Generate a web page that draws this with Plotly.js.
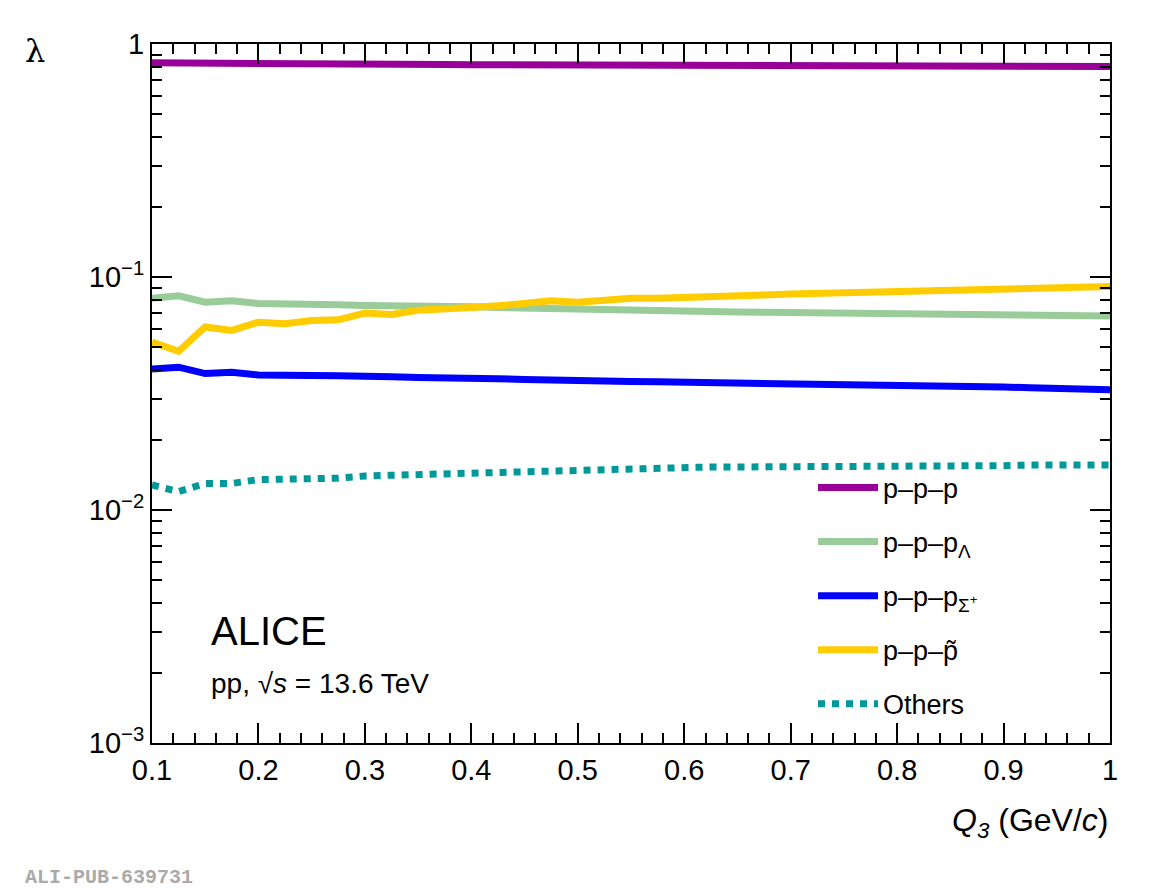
<!DOCTYPE html>
<html>
<head>
<script src="https://cdn.plot.ly/plotly-3.0.1.min.js"></script>
<style>body{margin:0}</style>
</head>
<body>
<div id="plot" style="width:1169px;height:895px"></div>
<script>
// Q3 grid, 0.1 .. 1.0 step 0.025
var q3 = [0.1,0.125,0.15,0.175,0.2,0.225,0.25,0.275,0.3,0.325,0.35,0.375,0.4,0.425,0.45,0.475,0.5,0.525,0.55,0.575,0.6,0.625,0.65,0.675,0.7,0.725,0.75,0.775,0.8,0.825,0.85,0.875,0.9,0.925,0.95,0.975,1.0];

var ppp = [0.83,0.83,0.825,0.825,0.823,0.822,0.821,0.82,0.819,0.818,0.817,0.816,0.815,0.814,0.813,0.812,0.811,0.81,0.81,0.809,0.808,0.808,0.807,0.807,0.806,0.806,0.805,0.805,0.804,0.804,0.803,0.803,0.802,0.802,0.801,0.801,0.8];
var pppL = [0.081,0.083,0.078,0.079,0.077,0.077,0.0765,0.076,0.0755,0.0755,0.075,0.0748,0.0745,0.074,0.0735,0.073,0.0725,0.072,0.0718,0.0715,0.0712,0.071,0.0708,0.0705,0.0703,0.0701,0.07,0.0698,0.0696,0.0694,0.0692,0.069,0.0688,0.0686,0.0684,0.0682,0.068];
var pppS = [0.0403,0.041,0.0385,0.039,0.038,0.0382,0.0378,0.0377,0.0372,0.0373,0.037,0.037,0.0368,0.0366,0.0363,0.036,0.0359,0.0357,0.0356,0.0355,0.0354,0.0353,0.0352,0.0351,0.035,0.0349,0.0348,0.0347,0.0345,0.0343,0.0341,0.0339,0.0337,0.0335,0.0333,0.0331,0.0328];
var pppT = [0.0526,0.048,0.061,0.059,0.064,0.063,0.065,0.0655,0.07,0.069,0.072,0.0725,0.074,0.0752,0.077,0.079,0.078,0.0795,0.081,0.081,0.082,0.0825,0.083,0.0838,0.0845,0.085,0.0855,0.086,0.0865,0.087,0.0875,0.088,0.0885,0.089,0.0895,0.09,0.091];
var others = [0.0128,0.012,0.013,0.013,0.0135,0.0135,0.0136,0.0137,0.014,0.0141,0.0142,0.0143,0.0144,0.0145,0.0146,0.0148,0.015,0.0151,0.0151,0.0152,0.0152,0.0153,0.0153,0.0153,0.0154,0.0154,0.0154,0.0154,0.0155,0.0155,0.0155,0.0155,0.0155,0.0156,0.0156,0.0156,0.0156];

var names = ['p\u2013p\u2013p','p\u2013p\u2013p<sub>\u039b</sub>','p\u2013p\u2013p<sub>\u03a3<sup>+</sup></sub>','p\u2013p\u2013p\u0303','Others'];
var colors = ['#990099','#99cc99','#0000ff','#ffcc00','#009999'];
var series = [ppp,pppL,pppS,pppT,others];

var data = series.map(function(s,i){
  return {x:q3, y:s, type:'scatter', mode:'lines', name:names[i], legendgroup:'g'+i,
    line:{color:colors[i], width:7, dash: i==4 ? 'dot' : 'solid'}};
});

var axisCommon = {showline:true, linecolor:'black', linewidth:2, mirror:'ticks', ticks:'inside',
  ticklen:20, tickwidth:2, tickcolor:'black', showgrid:false, zeroline:false,
  tickfont:{family:'Liberation Sans, Arial', size:29, color:'black'}};

var layout = {
  width:1169, height:895,
  margin:{l:152, r:59, t:44, b:152},
  paper_bgcolor:'white', plot_bgcolor:'white',
  font:{family:'Liberation Sans, Arial', color:'black'},
  xaxis:Object.assign({}, axisCommon, {range:[0.1,1.0], tickvals:[0.1,0.2,0.3,0.4,0.5,0.6,0.7,0.8,0.9,1],
    ticktext:['0.1','0.2','0.3','0.4','0.5','0.6','0.7','0.8','0.9','1'],
    minor:{dtick:0.02, ticks:'inside', ticklen:10, tickwidth:2, tickcolor:'black'}}),
  yaxis:Object.assign({}, axisCommon, {type:'log', range:[-3,0], tickvals:[0.001,0.01,0.1,1],
    ticktext:['10<sup>\u22123</sup>','10<sup>\u22122</sup>','10<sup>\u22121</sup>','1'],
    minor:{ticks:'inside', ticklen:10, tickwidth:2, tickcolor:'black', tickvals:[0.002,0.003,0.004,0.005,0.006,0.007,0.008,0.009,0.02,0.03,0.04,0.05,0.06,0.07,0.08,0.09,0.2,0.3,0.4,0.5,0.6,0.7,0.8,0.9]}}),
  legend:{x:0.69, y:0.40, xanchor:'left', yanchor:'top', bgcolor:'rgba(0,0,0,0)',
    font:{size:27, family:'Liberation Sans, Arial'}, tracegroupgap:16, itemwidth:60},
  annotations:[
    {xref:'paper', yref:'paper', x:-0.135, y:1.02, xanchor:'left', yanchor:'top', showarrow:false,
      text:'\u03bb', font:{size:32, family:'DejaVu Serif'}},
    {xref:'paper', yref:'paper', x:1, y:-0.114, xanchor:'right', yanchor:'middle', showarrow:false,
      text:'<i>Q<sub>3</sub></i> (GeV/<i>c</i>)', font:{size:32}},
    {xref:'paper', yref:'paper', x:0.06, y:0.16, xanchor:'left', yanchor:'middle', showarrow:false,
      text:'ALICE', font:{size:40}},
    {xref:'paper', yref:'paper', x:0.06, y:0.085, xanchor:'left', yanchor:'middle', showarrow:false,
      text:'pp, \u221a<i>s</i> = 13.6 TeV', font:{size:28}},
    {xref:'paper', yref:'paper', x:-0.135, y:-0.193, xanchor:'left', yanchor:'middle', showarrow:false,
      text:'<b>ALI-PUB-639731</b>', font:{size:20, family:'Liberation Mono, monospace', color:'#aaaaaa'}}
  ]
};

Plotly.newPlot('plot', data, layout, {displayModeBar:false});
</script>
</body>
</html>
